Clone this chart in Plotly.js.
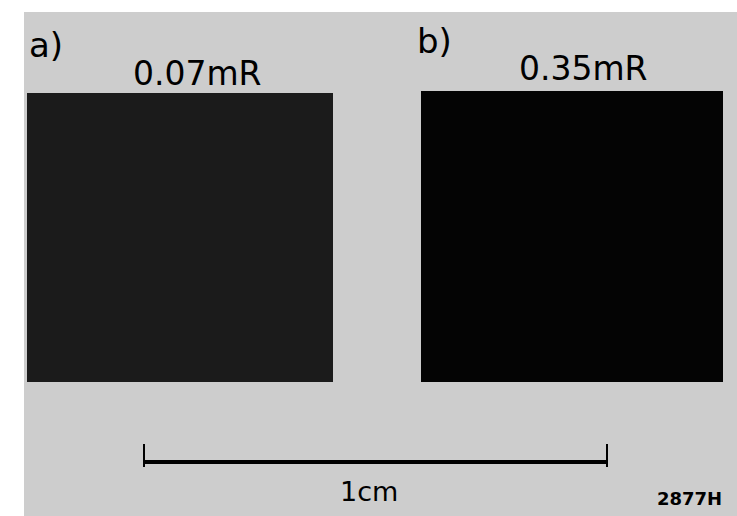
<!DOCTYPE html>
<html>
<head>
<meta charset="utf-8">
<script src="https://cdn.plot.ly/plotly-3.0.1.min.js"></script>
<style>html,body{margin:0;padding:0;background:#fff;}#chart{width:737px;height:516px;}</style>
</head>
<body>
<div id="chart"></div>
<script>
// ---- data ----
const panelLabels = ['a)', 'b)'];
const doseValues = [0.07, 0.35];          // exposure in mR
const doseLabels = ['0.07mR', '0.35mR'];
const scaleBarCm = 1;                      // scale bar length in cm
const scaleBarLabel = '1cm';
const figureId = '2877H';

// ---- layout helpers (positions/styles only) ----
const W = 737, H = 516;
const px = v => v / W;
const py = v => 1 - v / H;
const squareBoxes = [
  {x0: 27, x1: 333, y0: 93, y1: 382},
  {x0: 421, x1: 723, y0: 91, y1: 382}
];
const labelPos = [
  {panel: [46, 45], dose: [197, 73]},
  {panel: [434, 41], dose: [583, 68]}
];
const darkScale = [[0, '#cdcdcd'], [0.15, '#222222'], [0.2, '#1b1b1b'], [1, '#040404']];

const traces = [];
const layout = {
  width: W, height: H,
  margin: {l: 0, r: 0, t: 0, b: 0},
  paper_bgcolor: '#ffffff',
  plot_bgcolor: 'rgba(0,0,0,0)',
  showlegend: false,
  shapes: [{
    type: 'rect', xref: 'paper', yref: 'paper',
    x0: px(24), x1: 1, y0: 0, y1: py(12),
    fillcolor: '#cdcdcd', line: {width: 0}, layer: 'below'
  }],
  annotations: []
};

doseValues.forEach((d, i) => {
  const n = i === 0 ? '' : String(i + 1);
  const b = squareBoxes[i];
  traces.push({
    type: 'heatmap', z: [[d]], x: [0], y: [0],
    zmin: 0, zmax: 0.35, colorscale: darkScale, showscale: false,
    hoverinfo: 'skip',
    xaxis: 'x' + n, yaxis: 'y' + n
  });
  layout['xaxis' + n] = {domain: [px(b.x0), px(b.x1)], range: [-0.5, 0.5], visible: false, fixedrange: true, anchor: 'y' + n};
  layout['yaxis' + n] = {domain: [py(b.y1), py(b.y0)], range: [-0.5, 0.5], visible: false, fixedrange: true, anchor: 'x' + n};
  layout.annotations.push({
    text: panelLabels[i], xref: 'paper', yref: 'paper',
    x: px(labelPos[i].panel[0]), y: py(labelPos[i].panel[1]),
    xanchor: 'center', yanchor: 'middle', showarrow: false,
    font: {family: 'DejaVu Sans', size: 34, color: '#000'}
  });
  layout.annotations.push({
    text: doseLabels[i], xref: 'paper', yref: 'paper',
    x: px(labelPos[i].dose[0]), y: py(labelPos[i].dose[1]),
    xanchor: 'center', yanchor: 'middle', showarrow: false,
    font: {family: 'DejaVu Sans', size: 33, color: '#000'}
  });
});

// scale bar on its own axis, in cm
traces.push({
  type: 'scatter', mode: 'lines',
  x: [0, 0, null, 0, scaleBarCm, null, scaleBarCm, scaleBarCm],
  y: [-0.28, 1, null, 0, 0, null, -0.28, 1],
  line: {color: '#000', width: 4},
  hoverinfo: 'skip', xaxis: 'x3', yaxis: 'y3'
});
layout.xaxis3 = {domain: [px(143), px(608)], range: [0, scaleBarCm], visible: false, fixedrange: true, anchor: 'y3'};
layout.yaxis3 = {domain: [py(470), py(440)], range: [-0.444, 1.222], visible: false, fixedrange: true, anchor: 'x3'};

layout.annotations.push({
  text: scaleBarLabel, xref: 'paper', yref: 'paper',
  x: px(369), y: py(491), xanchor: 'center', yanchor: 'middle', showarrow: false,
  font: {family: 'DejaVu Sans', size: 27, color: '#000'}
});
layout.annotations.push({
  text: figureId, xref: 'paper', yref: 'paper',
  x: px(689), y: py(498), xanchor: 'center', yanchor: 'middle', showarrow: false,
  font: {family: 'DejaVu Sans', size: 18, color: '#000', weight: 'bold'}
});

Plotly.newPlot('chart', traces, layout, {displayModeBar: false, staticPlot: true});
</script>
</body>
</html>
